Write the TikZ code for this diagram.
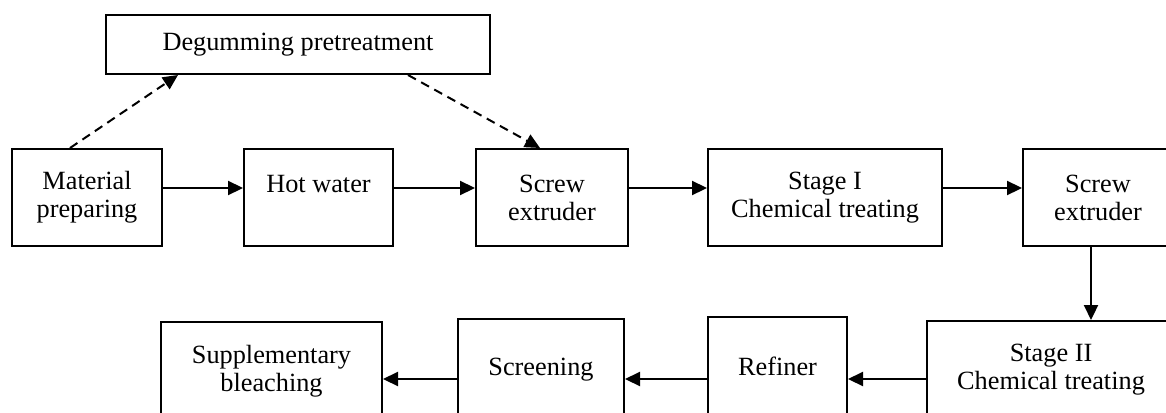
\documentclass[tikz,border=0pt]{standalone}
\usepackage{fontspec}
\setmainfont{Liberation Serif}
\usetikzlibrary{arrows.meta,positioning}

\begin{document}
\begin{tikzpicture}[x=0.5pt,y=-0.5pt,
  box/.style={draw,line width=1pt,align=center,inner sep=0pt,font=\fontsize{13.15}{14}\selectfont},
  arr/.style={-{Triangle[length=7.5pt,width=7pt]},line width=1.1pt},
  dasharr/.style={arr,line width=1pt,dash pattern=on 4.5pt off 3pt}]
  \useasboundingbox (0,0) rectangle (1166,412);
  \clip (0,0) rectangle (1166,412);
  % Pretreatment
  \node[box,minimum width=192pt,minimum height=29.5pt] (deg) at (298,44.5) {Degumming pretreatment};
  % First line
  \node[box,minimum width=75pt,minimum height=48.5pt] (mat) at (87,197.5) {Material\\preparing};
  \node[box,minimum width=74.5pt,minimum height=48.5pt] (hot) at (318.5,197.5) {Hot water\\\mbox{}};
  \node[box,minimum width=76pt,minimum height=48.5pt] (scr1) at (552,197.5) {Screw\\extruder};
  \node[box,minimum width=117pt,minimum height=48.5pt] (st1) at (825,197.5) {Stage I\\Chemical treating};
  \node[box,minimum width=75pt,minimum height=48.5pt] (scr2) at (1098,197.5) {Screw\\extruder};
  % Second line
  \node[box,minimum width=124pt,minimum height=48.5pt] (st2) at (1051,369.5) {Stage II\\Chemical treating};
  \node[box,minimum width=69.5pt,minimum height=49pt] (ref) at (777.5,366) {Refiner};
  \node[box,minimum width=83pt,minimum height=51pt] (scrn) at (541,370) {Screening};
  \node[box,minimum width=110.5pt,minimum height=49pt] (sup) at (271.5,371) {Supplementary\\bleaching};
  % Rows of arrows
  \coordinate (toprow) at (0,188);
  \coordinate (botrow) at (0,379);
  \coordinate (downx) at (1091,0);
  \draw[arr] (mat.east |- toprow) -- (hot.west |- toprow);
  \draw[arr] (hot.east |- toprow) -- (scr1.west |- toprow);
  \draw[arr] (scr1.east |- toprow) -- (st1.west |- toprow);
  \draw[arr] (st1.east |- toprow) -- (scr2.west |- toprow);
  \draw[arr] (scr2.south -| downx) -- (st2.north -| downx);
  \draw[arr] (st2.west |- botrow) -- (ref.east |- botrow);
  \draw[arr] (ref.west |- botrow) -- (scrn.east |- botrow);
  \draw[arr] (scrn.west |- botrow) -- (sup.east |- botrow);
  % Degumming branch
  \draw[dasharr] ([xshift=-8.5pt]mat.north) -- ([xshift=-60pt]deg.south);
  \draw[dasharr] ([xshift=55pt]deg.south) -- ([xshift=-6pt]scr1.north);
\end{tikzpicture}
\end{document}
